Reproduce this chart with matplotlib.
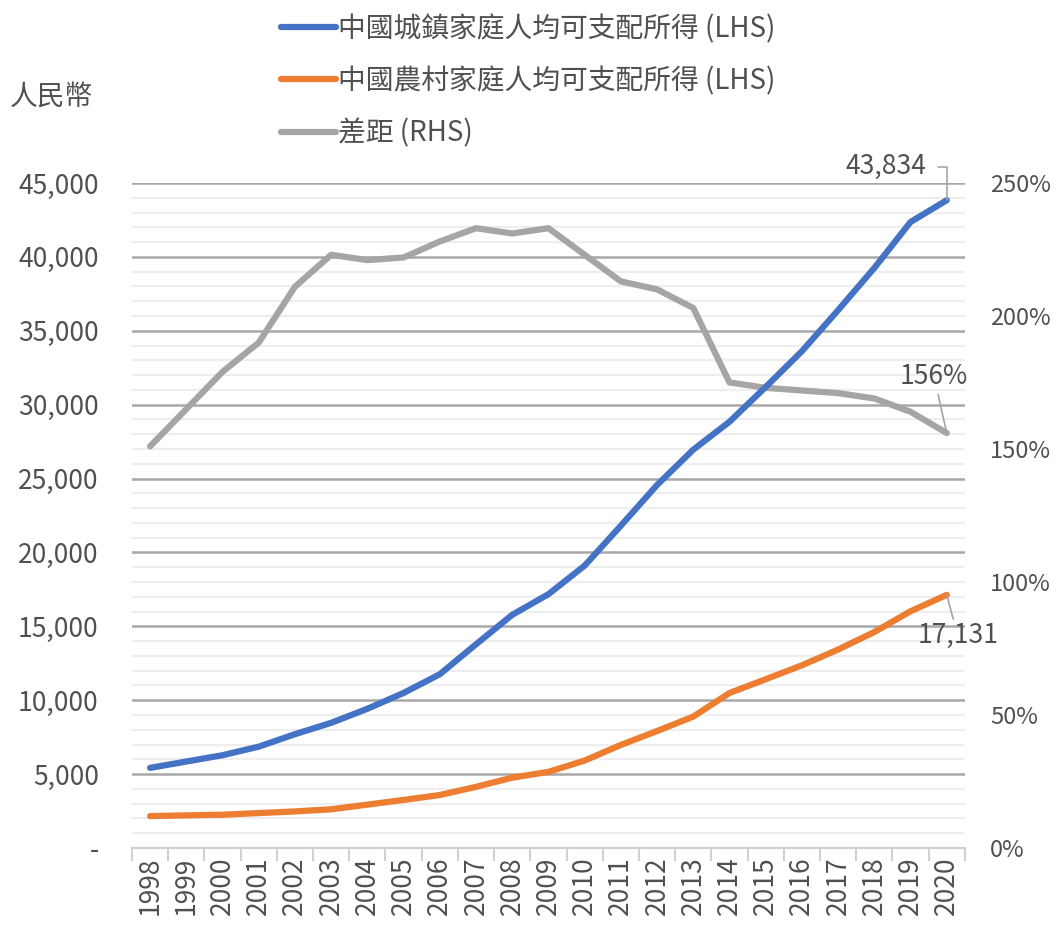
import numpy as np
import matplotlib
matplotlib.use("Agg")
from matplotlib import pyplot as plt
from matplotlib.ticker import FuncFormatter, MultipleLocator, FixedLocator

plt.rcParams['font.family'] = ['Noto Sans CJK TC', 'DejaVu Sans']
plt.rcParams['font.weight'] = 'light'

# data
years = [str(y) for y in range(1998, 2021)]
urban = [5425, 5854, 6280, 6860, 7703, 8472, 9422, 10493, 11759, 13786, 15781, 17175,
         19109, 21810, 24565, 26955, 28844, 31195, 33616, 36396, 39251, 42359, 43834]
rural = [2162, 2210, 2253, 2366, 2476, 2622, 2936, 3255, 3587, 4140, 4761, 5153,
         5919, 6977, 7917, 8896, 10489, 11422, 12363, 13432, 14617, 16021, 17131]
gap = [1.51, 1.65, 1.79, 1.90, 2.11, 2.23, 2.21, 2.22, 2.28, 2.33, 2.31, 2.33,
       2.23, 2.13, 2.10, 2.03, 1.75, 1.73, 1.72, 1.71, 1.69, 1.64, 1.56]

labels = ["中國城鎮家庭人均可支配所得 (LHS)", "中國農村家庭人均可支配所得 (LHS)", "差距 (RHS)"]
blue, orange, grey = "#4472C4", "#ED7D31", "#A5A5A5"
txt = "#505050"
fs = 19

fig = plt.figure(figsize=(10.61, 9.25), dpi=100)
rect = [0.1244, 0.0832, 0.785, 0.719]
ax2 = fig.add_axes(rect)          # right axis, drawn underneath
ax = fig.add_axes(rect, sharex=ax2)  # left axis on top
ax.patch.set_visible(False)

x = np.arange(len(years))
ymax = 45000
rmax = 2.5

# gridlines (left-axis steps) drawn on the lower axes so every line sits above them
ax2.set_ylim(0, rmax)
for v in range(1000, ymax + 1, 1000):
    major = v % 5000 == 0
    ax2.axhline(v / ymax * rmax, color="#A8A8A8" if major else "#EEEEEE",
                lw=1.8 if major else 1.6, zorder=0)

l3, = ax2.plot(x, gap, color=grey, lw=4.5, solid_capstyle='round', zorder=2)
l1, = ax.plot(x, urban, color=blue, lw=4.5, solid_capstyle='round', zorder=3)
l2, = ax.plot(x, rural, color=orange, lw=4.5, solid_capstyle='round', zorder=3)

ax.set_ylim(0, ymax)
ax.yaxis.set_major_locator(MultipleLocator(5000))
ax.yaxis.set_major_formatter(FuncFormatter(lambda v, p: "-" if v == 0 else f"{v:,.0f}"))
ax.tick_params(axis='y', length=0, labelsize=fs, labelcolor=txt, pad=24)

ax.set_xlim(-0.5, len(years) - 0.5)
ax.set_xticks(x)
ax.set_xticklabels(years, rotation=90, fontsize=fs, color=txt)
ax.xaxis.set_minor_locator(FixedLocator(np.arange(-0.5, len(years), 1.0)))
ax.tick_params(axis='x', which='major', length=0, pad=6)
ax.tick_params(axis='x', which='minor', length=9, color="#D0D0D0", width=1.5)
ax2.tick_params(axis='x', which='both', bottom=False, labelbottom=False)

ax2.yaxis.tick_right()
ax2.yaxis.set_major_locator(MultipleLocator(0.5))
ax2.yaxis.set_major_formatter(FuncFormatter(lambda v, p: f"{v*100:.0f}%"))
ax2.tick_params(axis='y', length=0, labelsize=17, labelcolor=txt, pad=18)

for a in (ax, ax2):
    for s in ['top', 'left', 'right']:
        a.spines[s].set_visible(False)
ax2.spines['bottom'].set_visible(False)
ax.spines['bottom'].set_color("#D0D0D0")
ax.spines['bottom'].set_linewidth(1.5)

# unit label
fig.text(0.009, 0.894, "人民幣", fontsize=20, color=txt, va='center', ha='left')

# legend
fig.legend([l1, l2, l3], labels, loc='upper left', bbox_to_anchor=(0.241, 1.012),
           frameon=False, fontsize=20, handlelength=2.0, handletextpad=0.08,
           labelspacing=0.8, labelcolor=txt)

# end labels
ax.annotate(f"{urban[-1]:,}", xy=(x[-1], urban[-1]), xytext=(x[-1] - 0.55, 46100),
            ha='right', va='center', fontsize=fs, color=txt,
            arrowprops=dict(arrowstyle='-', color="#A5A5A5", lw=1.2, relpos=(1.0, 0.5),
                            connectionstyle="angle,angleA=0,angleB=90,rad=0",
                            shrinkA=6, shrinkB=0))
ax.annotate(f"{rural[-1]:,}", xy=(x[-1], rural[-1]), xytext=(x[-1] + 0.3, 15300),
            ha='center', va='top', fontsize=fs, color=txt,
            arrowprops=dict(arrowstyle='-', color="#A5A5A5", lw=1.2, shrinkA=0, shrinkB=0))
ax2.annotate(f"{gap[-1]*100:.0f}%", xy=(x[-1], gap[-1]), xytext=(x[-1] - 0.35, 1.72),
             ha='center', va='bottom', fontsize=fs, color=txt,
             arrowprops=dict(arrowstyle='-', color="#A5A5A5", lw=1.2, shrinkA=1, shrinkB=0))

fig.savefig("out.png", dpi=100)
